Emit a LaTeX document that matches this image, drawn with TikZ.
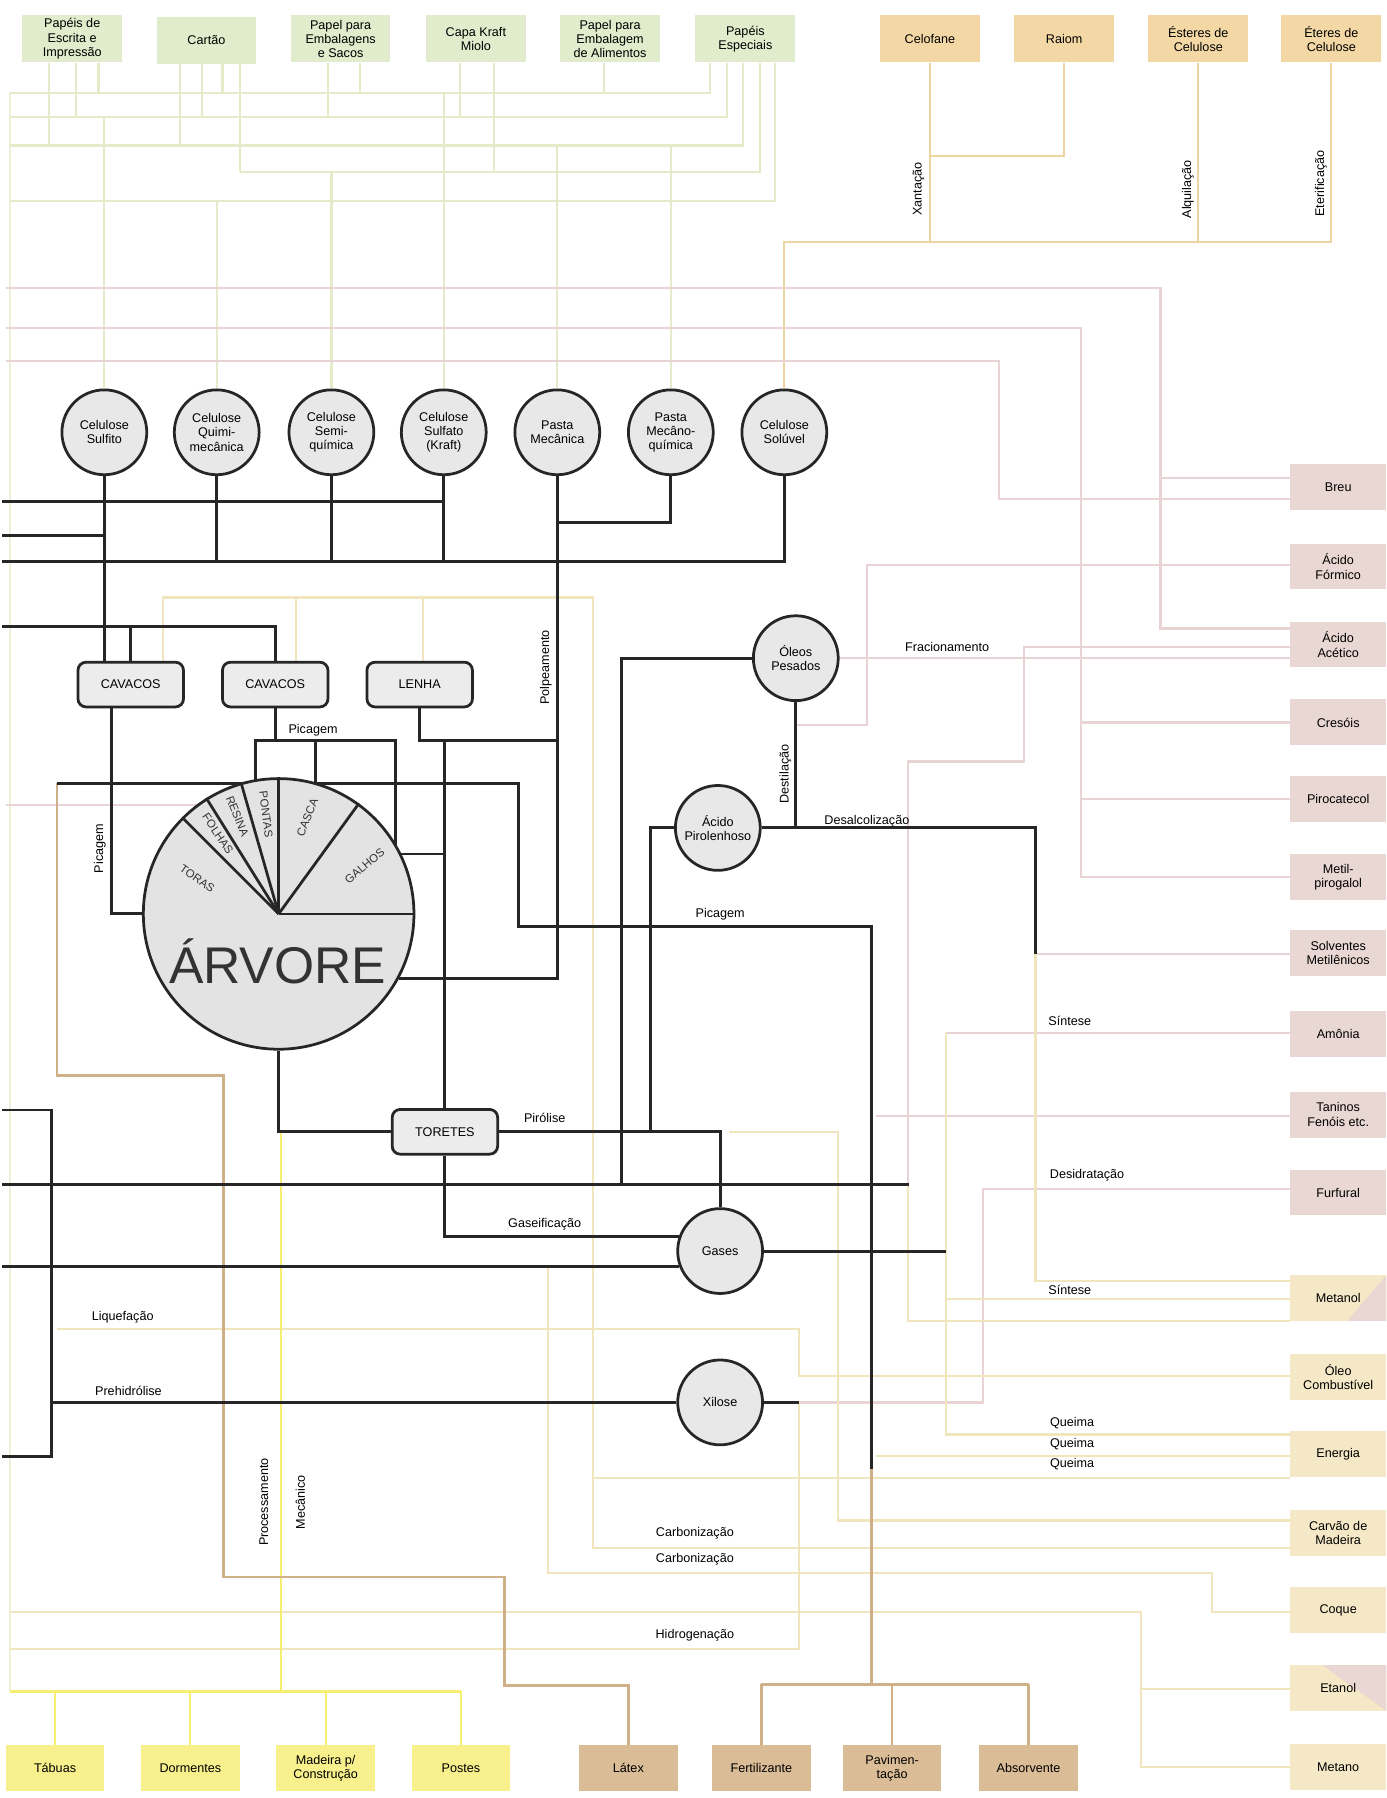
\documentclass[tikz,border=0pt]{standalone}
\usepackage{fontspec}
\setmainfont{Liberation Sans}
\usepackage{xcolor}
\usepackage{tikz}

\definecolor{papergreen}{RGB}{224,236,204}
\definecolor{celtan}{RGB}{243,216,166}
\definecolor{chempink}{RGB}{233,215,211}
\definecolor{fuelcream}{RGB}{244,232,198}
\definecolor{woodyellow}{RGB}{248,240,140}
\definecolor{resinbrown}{RGB}{218,188,150}
\definecolor{lgreen}{RGB}{228,235,200}
\definecolor{ltan}{RGB}{238,212,158}
\definecolor{lpink}{RGB}{232,212,212}
\definecolor{lcream}{RGB}{240,229,188}
\definecolor{lyellow}{RGB}{246,238,112}
\definecolor{lbrown}{RGB}{208,176,136}

\pgfdeclarelayer{paperlayer}
\pgfdeclarelayer{palelayer}
\pgfdeclarelayer{wirelayer}
\pgfsetlayers{paperlayer,palelayer,wirelayer,main}

\begin{document}
\begin{tikzpicture}[x=1pt, y=-1pt,
    every node/.style={font=\fontsize{11}{12.5}\selectfont, align=center, inner sep=0pt},
    topbox/.style={minimum width=87, minimum height=41},
    prodbox/.style={minimum width=84, minimum height=40},
    botbox/.style={minimum width=86, minimum height=40},
    pulp/.style={circle, draw=black!85, line width=2.4pt, fill=gray!18, minimum size=74},
    chip/.style={rounded corners=7pt, draw=black!85, line width=2.4pt, fill=gray!15, minimum width=92, minimum height=39},
    slicelbl/.style={font=\fontsize{10}{11}\selectfont, text=black!80},
    blk/.style={line width=2.6pt, draw=black!85},
    pale/.style={line width=2pt}]

    \useasboundingbox (0,0) rectangle (1209,1568);
    \begin{pgfonlayer}{paperlayer}
        \fill[white] (0,0) rectangle (1209,1568);
    \end{pgfonlayer}

    % Papers
    \node[topbox, fill=papergreen] (escrita) at (63,34) {Papéis de\\Escrita e\\Impressão};
    \node[topbox, fill=papergreen] (cartao) at (180,35) {Cartão};
    \node[topbox, fill=papergreen] (embalagens) at (297,34) {Papel para\\Embalagens\\e Sacos};
    \node[topbox, fill=papergreen] (capa) at (415,34) {Capa Kraft\\Miolo};
    \node[topbox, fill=papergreen] (alimentos) at (532,34) {Papel para\\Embalagem\\de Alimentos};
    \node[topbox, fill=papergreen] (especiais) at (650,34) {Papéis\\Especiais};

    % Cellulose derivatives
    \node[topbox, fill=celtan] (celofane) at (811,34) {Celofane};
    \node[topbox, fill=celtan] (raiom) at (928,34) {Raiom};
    \node[topbox, fill=celtan] (esteres) at (1045,34) {Ésteres de\\Celulose};
    \node[topbox, fill=celtan] (eteres) at (1161,34) {Éteres de\\Celulose};

    % Pulps
    \node[pulp] (sulfito) at (91,377) {Celulose\\Sulfito};
    \node[pulp] (quimi) at (189,377) {Celulose\\Quimi-\\mecânica};
    \node[pulp] (semi) at (289,377) {Celulose\\Semi-\\química};
    \node[pulp] (kraft) at (387,377) {Celulose\\Sulfato\\(Kraft)};
    \node[pulp] (mecanica) at (486,377) {Pasta\\Mecânica};
    \node[pulp] (mecanoq) at (585,377) {Pasta\\Mecâno-\\química};
    \node[pulp] (soluvel) at (684,377) {Celulose\\Solúvel};

    \node[pulp] (oleos) at (694,574) {Óleos\\Pesados};
    \node[pulp] (pirol) at (626,722) {Ácido\\Pirolenhoso};
    \node[pulp] (gases) at (628,1091) {Gases};
    \node[pulp] (xilose) at (628,1223) {Xilose};

    % Wood pieces
    \node[chip] (cav1) at (114,597) {CAVACOS};
    \node[chip] (cav2) at (240,597) {CAVACOS};
    \node[chip] (lenha) at (366,597) {LENHA};
    \node[chip] (toretes) at (388,987) {TORETES};

    % Tree
    \node[circle, draw=black!85, line width=2.4pt, fill=gray!22, minimum size=236] (arvore) at (243,797) {};
    \foreach \a in {0,54,90,106,122,135}
        \draw[line width=2.4pt, black!85] (arvore.center) -- (arvore.\a);
    \node[slicelbl, rotate=-35] (ltoras) at (172,766) {TORAS};
    \node[slicelbl, rotate=-56] (lfolhas) at (190,727) {FOLHAS};
    \node[slicelbl, rotate=-68] (lresina) at (207,712) {RESINA};
    \node[slicelbl, rotate=-83] (lpontas) at (232,710) {PONTAS};
    \node[slicelbl, rotate=68] (lcasca) at (268,713) {CASCA};
    \node[slicelbl, rotate=40] (lgalhos) at (318,755) {GALHOS};
    \node[font=\fontsize{45}{45}\selectfont, text=black!80] (arvlabel) at (242,838) {ÁRVORE};

    % Chemicals
    \node[prodbox, fill=chempink] (breu) at (1167,425) {Breu};
    \node[prodbox, fill=chempink] (formico) at (1167,494) {Ácido\\Fórmico};
    \node[prodbox, fill=chempink] (acetico) at (1167,562) {Ácido\\Acético};
    \node[prodbox, fill=chempink] (cresois) at (1167,630) {Cresóis};
    \node[prodbox, fill=chempink] (pirocat) at (1167,697) {Pirocatecol};
    \node[prodbox, fill=chempink] (metilp) at (1167,765) {Metil-\\pirogalol};
    \node[prodbox, fill=chempink] (solvent) at (1167,831) {Solventes\\Metilênicos};
    \node[prodbox, fill=chempink] (amonia) at (1167,902) {Amônia};
    \node[prodbox, fill=chempink] (taninos) at (1167,972) {Taninos\\Fenóis etc.};
    \node[prodbox, fill=chempink] (furfural) at (1167,1040) {Furfural};

    % Fuels
    \node[prodbox, fill=fuelcream, path picture={\fill[chempink] (path picture bounding box.north east) -- (path picture bounding box.south east) -- ([xshift=-34pt]path picture bounding box.south east) -- cycle;}] (metanol) at (1167,1132) {Metanol};
    \node[prodbox, fill=fuelcream] (oleocomb) at (1167,1201) {Óleo\\Combustível};
    \node[prodbox, fill=fuelcream] (energia) at (1167,1268) {Energia};
    \node[prodbox, fill=fuelcream] (carvao) at (1167,1337) {Carvão de\\Madeira};
    \node[prodbox, fill=fuelcream] (coque) at (1167,1404) {Coque};
    \node[prodbox, fill=fuelcream, path picture={\fill[chempink] (path picture bounding box.north east) -- (path picture bounding box.south east) -- ([xshift=-56pt]path picture bounding box.north east) -- cycle;}] (etanol) at (1167,1472) {Etanol};
    \node[prodbox, fill=fuelcream] (metano) at (1167,1541) {Metano};

    % Timber and resin products
    \node[botbox, fill=woodyellow] (tabuas) at (48,1542) {Tábuas};
    \node[botbox, fill=woodyellow] (dormentes) at (166,1542) {Dormentes};
    \node[botbox, fill=woodyellow] (madeira) at (284,1542) {Madeira p/\\Construção};
    \node[botbox, fill=woodyellow] (postes) at (402,1542) {Postes};
    \node[botbox, fill=resinbrown] (latex) at (548,1542) {Látex};
    \node[botbox, fill=resinbrown] (fertil) at (664,1542) {Fertilizante};
    \node[botbox, fill=resinbrown] (pavim) at (778,1542) {Pavimen-\\tação};
    \node[botbox, fill=resinbrown] (absorv) at (897,1542) {Absorvente};

    \coordinate (xilend) at (697,1223);

    % Main routes
    \begin{pgfonlayer}{wirelayer}
        \draw[blk] (2,437) -| (kraft.south);
        \draw[blk] (2,467) -| (sulfito.south);
        \draw[blk] (sulfito.south) -- (sulfito.south |- cav1.north);
        \draw[blk] (2,490) -| (soluvel.south);
        \draw[blk] (quimi.south) -- (quimi.south |- 0,490);
        \draw[blk] (semi.south) -- (semi.south |- 0,490);
        \draw[blk] (kraft.south) -- (kraft.south |- 0,490);
        \draw[blk] (mecanica.south) |- (arvore.-28);
        \draw[blk] (mecanoq.south) |- (mecanica.south |- 0,456);
        \draw[blk] (2,546) -| (cav2.north);
        \draw[blk] (cav1.north) -- (cav1.north |- 0,546);
        \draw[blk] (cav1.south -| 97,0) |- (arvore.west);
        \draw[blk] (cav2.south) -- (cav2.south |- 0,646);
        \draw[blk] (223,700) |- (345,646) -- (345,745);
        \draw[blk] (275,646) -- (275,700);
        \draw[blk] (lenha.south) |- (mecanica.south |- 0,646);
        \draw[blk] (toretes.north) -- (toretes.north |- 0,646);
        \draw[blk] (50,683) -| (452,808) -| (760,1281);
        \draw[blk] (arvore.26) -- (toretes.north |- arvore.26);
        \draw[blk] (arvore.south) |- (toretes.west);
        \draw[blk] (toretes.east) -| (gases.north);
        \draw[blk] (toretes.south) |- (gases.160);
        \draw[blk] (gases.200 -| 2,0) -- (gases.200);
        \draw[blk] (gases.east) -- (825,1091);
        \draw[blk] (2,1033) -- (793,1033);
        \draw[blk] (2,968) -| (45,1270) -- (2,1270);
        \draw[blk] (45,1223) -- (xilose.west);
        \draw[blk] (xilose.east) -- (xilend);
        \draw[blk] (oleos.west) -| (542,1033);
        \draw[blk] (pirol.west) -| (567,987);
        \draw[blk] (oleos.south) -- (oleos.south |- pirol.east);
        \draw[blk] (pirol.east) -| (903,832);
    \end{pgfonlayer}

    % Secondary routes
    \begin{pgfonlayer}{palelayer}
        % paper
        \draw[pale, lgreen!70] (9,81) -- (9,1475);
        \draw[pale, lgreen] (9,81) -| (especiais.south -| 619,0);
        \draw[pale, lgreen] (9,102) -| (especiais.south -| 634,0);
        \draw[pale, lgreen] (9,127) -| (especiais.south -| 648,0);
        \draw[pale, lgreen] (209,150) -| (especiais.south -| 663,0);
        \draw[pale, lgreen] (9,175) -| (especiais.south -| 676,0);
        \foreach \x/\y in {43/127, 66/102, 86/81}
            \draw[pale, lgreen] (escrita.south -| \x,0) -- (\x,\y);
        \foreach \x/\y in {157/127, 176/102, 194/81, 209/150}
            \draw[pale, lgreen] (cartao.south -| \x,0) -- (\x,\y);
        \foreach \x/\y in {286/102, 314/81}
            \draw[pale, lgreen] (embalagens.south -| \x,0) -- (\x,\y);
        \foreach \x/\y in {401/102, 431/150}
            \draw[pale, lgreen] (capa.south -| \x,0) -- (\x,\y);
        \draw[pale, lgreen] (alimentos.south -| 527,0) -- (527,81);
        \foreach \p/\y in {sulfito/102, quimi/175, semi/150, kraft/81, mecanica/127, mecanoq/127}
            \draw[pale, lgreen] (\p.north |- 0,\y) -- (\p.north);

        % cellulose derivatives
        \draw[pale, ltan] (celofane.south) -- (celofane.south |- 0,211);
        \draw[pale, ltan] (raiom.south) |- (celofane.south |- 0,136);
        \draw[pale, ltan] (esteres.south) -- (esteres.south |- 0,211);
        \draw[pale, ltan] (eteres.south) |- (soluvel.north |- 0,211) -- (soluvel.north);

        % chemicals
        \draw[pale, lpink] (5,251) -| (1012,548) -- (acetico.west |- 0,548);
        \draw[pale, lpink] (1012,417) -- (breu.west |- 0,417);
        \draw[pale, lpink] (5,286) -| (943,765) -- (metilp.west |- 0,765);
        \draw[pale, lpink] (943,630) -- (cresois.west);
        \draw[pale, lpink] (943,697) -- (pirocat.west);
        \draw[pale, lpink] (5,315) -| (871,435) -- (breu.west |- 0,435);
        \draw[pale, lpink] (5,702) -- (arvore.center |- 0,702);
        \draw[pale, lpink] (oleos.south |- 0,632) -| (756,493) -- (formico.west |- 0,493);
        \draw[pale, lpink] (oleos.east) -- (acetico.west |- oleos.east);
        \draw[pale, lpink] (792,1033) |- (893,664) |- (acetico.west |- 0,564);
        \draw[pale, lpink] (903,832) -- (solvent.west |- 0,832);
        \draw[pale, lpink] (764,973) -- (taninos.west |- 0,973);
        \draw[pale, lpink] (825,901) -- (amonia.west |- 0,901);
        \draw[pale, lpink] (xilend) -| (857,1037) -- (furfural.west |- 0,1037);

        % fuels
        \draw[pale, lcream] (792,1033) |- (metanol.west |- 0,1152);
        \draw[pale, lcream] (903,832) |- (metanol.west |- 0,1117);
        \draw[pale, lcream] (825,901) |- (energia.west |- 0,1251);
        \draw[pale, lcream] (825,1133) -- (metanol.west |- 0,1133);
        \draw[pale, lcream] (50,1159) -| (697,1200) -- (oleocomb.west |- 0,1200);
        \draw[pale, lcream] (764,1270) -- (energia.west |- 0,1270);
        \draw[pale, lcream] (517,1289) -- (energia.west |- 0,1289);
        \draw[pale, lcream] (cav1.north -| 142,0) |- (517,521) -- (517,1350) -- (carvao.west |- 0,1350);
        \draw[pale, lcream] (cav2.north -| 258,0) -- (258,521);
        \draw[pale, lcream] (lenha.north -| 369,0) -- (369,521);
        \draw[pale, lcream] (636,987) -| (731,1326) -- (carvao.west |- 0,1326);
        \draw[pale, lcream] (478,1104) |- (1057,1372) |- (coque.west |- 0,1406);
        \draw[pale, lcream] (xilend) |- (9,1438);
        \draw[pale, lcream] (9,1406) -| (995,1541) -- (metano.west);
        \draw[pale, lcream] (995,1473) -- (etanol.west |- 0,1473);

        % timber
        \draw[pale, lyellow] (245,987) -- (245,1475);
        \draw[pale, lyellow] (9,1475) -- (402,1475);
        \foreach \b in {tabuas, dormentes, madeira, postes}
            \draw[pale, lyellow] (\b.north) -- (\b.north |- 0,1475);

        % resin
        \draw[pale, lbrown] (50,683) -- (50,938) -| (195,1375) -| (440,1470) -| (latex.north);
        \draw[pale, lbrown] (760,1281) -- (760,1469);
        \draw[pale, lbrown] (fertil.north |- 0,1469) -- (absorv.north |- 0,1469);
        \foreach \b in {fertil, pavim, absorv}
            \draw[pale, lbrown] (\b.north) -- (\b.north |- 0,1469);
    \end{pgfonlayer}

    % Process labels
    \node[rotate=90] (lxant) at (801,165) {Xantação};
    \node[rotate=90] (lalqu) at (1036,165) {Alquilação};
    \node[rotate=90] (leter) at (1152,160) {Eterificação};
    \node[rotate=90] (lpolp) at (476,582) {Polpeamento};
    \node[rotate=90] (lpic1) at (87,740) {Picagem};
    \node (lpic2) at (273,637) {Picagem};
    \node (lfrac) at (826,564) {Fracionamento};
    \node[rotate=90] (ldest) at (685,675) {Destilação};
    \node (ldesa) at (756,716) {Desalcolização};
    \node (lpic3) at (628,797) {Picagem};
    \node (lsin1) at (933,890) {Síntese};
    \node (lpiro) at (475,975) {Pirólise};
    \node (ldesi) at (948,1025) {Desidratação};
    \node (lgase) at (475,1068) {Gaseificação};
    \node (lsin2) at (933,1125) {Síntese};
    \node (lliqu) at (107,1149) {Liquefação};
    \node (lpreh) at (112,1213) {Prehidrólise};
    \node (lque1) at (935,1241) {Queima};
    \node (lque2) at (935,1259) {Queima};
    \node (lque3) at (935,1277) {Queima};
    \node[rotate=90] (lproc) at (230,1310) {Processamento};
    \node[rotate=90] (lmeca) at (262,1310) {Mecânico};
    \node (lcar1) at (606,1337) {Carbonização};
    \node (lcar2) at (606,1360) {Carbonização};
    \node (lhidr) at (606,1426) {Hidrogenação};
\end{tikzpicture}
\end{document}
